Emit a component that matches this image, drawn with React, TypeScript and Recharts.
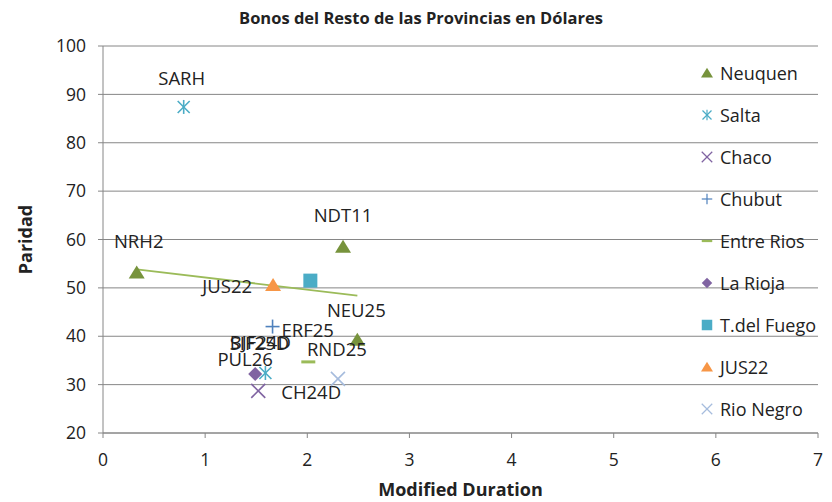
import React from 'react'
import { ScatterChart, Scatter, XAxis, YAxis, CartesianGrid, Label } from 'recharts'

const neuquen = [
  { x: 0.33, y: 53.2, label: 'NRH2' },
  { x: 2.35, y: 58.5, label: 'NDT11' },
  { x: 2.49, y: 39.3, label: 'NEU25' },
]
const salta = [
  { x: 0.79, y: 87.4, label: 'SARH' },
  { x: 1.59, y: 32.4, label: 'SIF25D' },
]
const chaco = [{ x: 1.52, y: 28.7, label: 'CH24D' }]
const chubut = [{ x: 1.66, y: 42.0, label: 'ERF25' }]
const entreRios = [{ x: 2.01, y: 34.7, label: 'BJF24D' }]
const laRioja = [{ x: 1.49, y: 32.2, label: 'PUL26' }]
const tdelFuego = [{ x: 2.03, y: 51.5, label: '' }]
const jus22 = [{ x: 1.665, y: 50.6, label: 'JUS22' }]
const rioNegro = [{ x: 2.3, y: 31.2, label: 'RND25' }]

const xTicks = [0, 1, 2, 3, 4, 5, 6, 7]
const yTicks = [20, 30, 40, 50, 60, 70, 80, 90, 100]

// linear trendline over the Neuquen points (as Excel draws it)
function trend(pts: { x: number; y: number }[]) {
  const n = pts.length
  const mx = pts.reduce((s, p) => s + p.x, 0) / n
  const my = pts.reduce((s, p) => s + p.y, 0) / n
  let sxy = 0
  let sxx = 0
  pts.forEach((p) => {
    sxy += (p.x - mx) * (p.y - my)
    sxx += (p.x - mx) * (p.x - mx)
  })
  const b = sxy / sxx
  const xs = pts.map((p) => p.x)
  const x0 = Math.min(...xs)
  const x1 = Math.max(...xs)
  return [
    { x: x0, y: my + b * (x0 - mx) },
    { x: x1, y: my + b * (x1 - mx) },
  ]
}
const neuquenTrend = trend(neuquen)

const FONT = 'Open Sans, Liberation Sans, sans-serif'
const TEXT = '#222'

const labelPos: Record<string, { dx: number; dy: number; anchor: string }> = {
  NRH2: { dx: 2, dy: -32, anchor: 'middle' },
  NDT11: { dx: 0, dy: -32, anchor: 'middle' },
  NEU25: { dx: -1, dy: -30, anchor: 'middle' },
  SARH: { dx: -2, dy: -29, anchor: 'middle' },
  SIF25D: { dx: -6, dy: -31, anchor: 'middle' },
  BJF24D: { dx: -48, dy: -20, anchor: 'middle' },
  PUL26: { dx: -10, dy: -15, anchor: 'middle' },
  ERF25: { dx: 9, dy: 3, anchor: 'start' },
  JUS22: { dx: -21, dy: 1, anchor: 'end' },
  RND25: { dx: -1, dy: -30, anchor: 'middle' },
  CH24D: { dx: 23, dy: 1, anchor: 'start' },
}

type Kind = 'triangle' | 'asterisk' | 'x' | 'plus' | 'dash' | 'diamond' | 'square'

function Marker({ kind, color, cx, cy }: { kind: Kind; color: string; cx: number; cy: number }) {
  switch (kind) {
    case 'triangle':
      return <polygon points={`${cx},${cy - 7} ${cx + 8},${cy + 6} ${cx - 8},${cy + 6}`} fill={color} />
    case 'asterisk':
      return (
        <g stroke={color} strokeWidth={1.6}>
          <line x1={cx - 6} y1={cy - 6} x2={cx + 6} y2={cy + 6} />
          <line x1={cx - 6} y1={cy + 6} x2={cx + 6} y2={cy - 6} />
          <line x1={cx} y1={cy - 7} x2={cx} y2={cy + 7} />
        </g>
      )
    case 'x':
      return (
        <g stroke={color} strokeWidth={1.6}>
          <line x1={cx - 7} y1={cy - 7} x2={cx + 7} y2={cy + 7} />
          <line x1={cx - 7} y1={cy + 7} x2={cx + 7} y2={cy - 7} />
        </g>
      )
    case 'plus':
      return (
        <g stroke={color} strokeWidth={1.6}>
          <line x1={cx - 7} y1={cy} x2={cx + 7} y2={cy} />
          <line x1={cx} y1={cy - 7} x2={cx} y2={cy + 7} />
        </g>
      )
    case 'dash':
      return <line x1={cx - 7} y1={cy} x2={cx + 7} y2={cy} stroke={color} strokeWidth={3} />
    case 'diamond':
      return <polygon points={`${cx},${cy - 7} ${cx + 7},${cy} ${cx},${cy + 7} ${cx - 7},${cy}`} fill={color} />
    case 'square':
      return <rect x={cx - 7} y={cy - 7} width={14} height={14} fill={color} />
  }
  return null
}

function makeShape(kind: Kind, color: string) {
  return (props: any) => {
    const { cx, cy, payload } = props
    const lp = labelPos[payload.label]
    return (
      <g>
        <Marker kind={kind} color={color} cx={cx} cy={cy} />
        {lp && (
          <text
            x={cx + lp.dx}
            y={cy + lp.dy}
            textAnchor={lp.anchor as any}
            dominantBaseline="central"
            fontFamily={FONT}
            fontSize={18.5}
            fill={TEXT}
          >
            {payload.label}
          </text>
        )}
      </g>
    )
  }
}

const series: { name: string; data: any[]; kind: Kind; color: string }[] = [
  { name: 'Neuquen', data: neuquen, kind: 'triangle', color: '#77933C' },
  { name: 'Salta', data: salta, kind: 'asterisk', color: '#4BACC6' },
  { name: 'Chaco', data: chaco, kind: 'x', color: '#8064A2' },
  { name: 'Chubut', data: chubut, kind: 'plus', color: '#4F81BD' },
  { name: 'Entre Rios', data: entreRios, kind: 'dash', color: '#9BBB59' },
  { name: 'La Rioja', data: laRioja, kind: 'diamond', color: '#8064A2' },
  { name: 'T.del Fuego', data: tdelFuego, kind: 'square', color: '#4BACC6' },
  { name: 'JUS22', data: jus22, kind: 'triangle', color: '#F79646' },
  { name: 'Rio Negro', data: rioNegro, kind: 'x', color: '#A6BCDD' },
]

function LegendBox() {
  return (
    <div style={{ position: 'absolute', left: 696, top: 52, fontFamily: FONT, fontSize: 18, color: TEXT, whiteSpace: 'nowrap' }}>
      {series.map((s) => (
        <div key={s.name} style={{ display: 'flex', alignItems: 'center', height: 42 }}>
          <svg width={22} height={20}>
            <g transform="translate(11,10) scale(0.75) translate(-11,-10)">
              <Marker kind={s.kind} color={s.color} cx={11} cy={10} />
            </g>
          </svg>
          <span style={{ marginLeft: 2 }}>{s.name}</span>
        </div>
      ))}
    </div>
  )
}

export default function App() {
  return (
    <div style={{ position: 'absolute', left: 0, top: 0, width: 832, height: 502, background: '#fff', overflow: 'hidden' }}>
      <div
        style={{
          position: 'absolute',
          top: 6,
          left: 0,
          width: 842,
          textAlign: 'center',
          fontFamily: FONT,
          fontWeight: 'bold',
          fontSize: 16.5,
          color: TEXT,
        }}
      >
        Bonos del Resto de las Provincias en Dólares
      </div>
      <ScatterChart width={832} height={502} margin={{ top: 46, right: 14, bottom: 29, left: 43 }}>
        <CartesianGrid vertical={false} stroke="#868686" />
        <XAxis
          type="number"
          dataKey="x"
          domain={[0, 7]}
          ticks={xTicks}
          interval={0}
          height={40}
          stroke="#868686"
          tickSize={5}
          tick={{ fill: TEXT, fontSize: 17.5, fontFamily: FONT }}
          tickMargin={16}
        >
          <Label
            value="Modified Duration"
            position="insideBottom"
            offset={-23}
            style={{ fill: TEXT, fontWeight: 'bold', fontSize: 18, fontFamily: FONT }}
          />
        </XAxis>
        <YAxis
          type="number"
          dataKey="y"
          domain={[20, 100]}
          ticks={yTicks}
          interval={0}
          width={60}
          stroke="#868686"
          tickSize={5}
          tickMargin={12}
          tick={{ fill: TEXT, fontSize: 17.5, fontFamily: FONT }}
        >
          <Label
            value="Paridad"
            angle={-90}
            position="insideLeft"
            offset={-17}
            style={{ textAnchor: 'middle', fill: TEXT, fontWeight: 'bold', fontSize: 18, fontFamily: FONT }}
          />
        </YAxis>
        <Scatter
          name="trend"
          data={neuquenTrend}
          line={{ stroke: '#9BBB59', strokeWidth: 1.8 }}
          shape={() => <g />}
          isAnimationActive={false}
        />
        {series.map((s) => (
          <Scatter key={s.name} name={s.name} data={s.data} shape={makeShape(s.kind, s.color)} isAnimationActive={false} />
        ))}
      </ScatterChart>
      <LegendBox />
    </div>
  )
}
